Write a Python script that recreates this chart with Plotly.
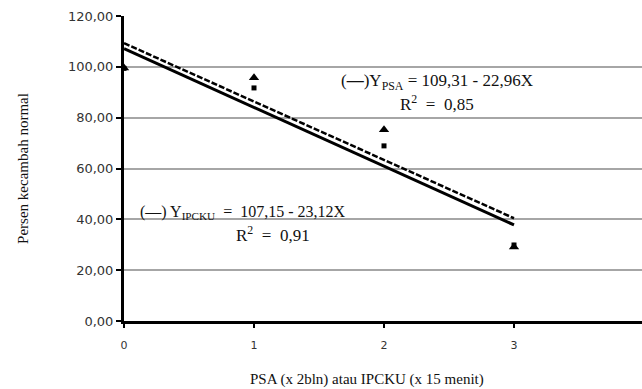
import plotly.graph_objects as go

# Data
x_levels = [0, 1, 2, 3]
psa_obs = [99.5, 95.7, 75.2, 29.1]      # triangles
ipcku_obs = [99.4, 91.7, 68.9, 29.9]    # squares
fit_x = [0, 3]
psa_fit = [109.31, 40.43]     # Y_PSA = 109,31 - 22,96X
ipcku_fit = [107.15, 37.79]   # Y_IPCKU = 107,15 - 23,12X

y_ticks = [0, 20, 40, 60, 80, 100, 120]
y_tick_labels = ["0,00", "20,00", "40,00", "60,00", "80,00", "100,00", "120,00"]
x_ticks = [0, 1, 2, 3, 4]
x_tick_labels = ["0", "1", "2", "3", "4"]

fig = go.Figure()

fig.add_trace(go.Scatter(x=fit_x, y=ipcku_fit, mode="lines",
                         line=dict(color="black", width=3), showlegend=False))
fig.add_trace(go.Scatter(x=fit_x, y=psa_fit, mode="lines",
                         line=dict(color="black", width=2.5, dash="6px,2px"), showlegend=False))
fig.add_trace(go.Scatter(x=x_levels, y=ipcku_obs, mode="markers",
                         marker=dict(symbol="square", size=5, color="black"), showlegend=False))
fig.add_trace(go.Scatter(x=x_levels, y=psa_obs, mode="markers",
                         marker=dict(symbol="triangle-up", size=9, color="black"), showlegend=False))

serif = "Liberation Serif"

W, H = 642, 389
L, R, T, B = 124, 0, 16, 68
pw, ph = W - L - R, H - T - B

annots = [
    dict(text="(<b>—</b>)Y<sub>PSA</sub> = 109,31 - 22,96X", x=437, y=82, size=17),
    dict(text="R<sup>2</sup>  =  0,85", x=437, y=103, size=17),
    dict(text="(—) Y<sub>IPCKU</sub>  =  107,15 - 23,12X", x=243, y=212, size=16),
    dict(text="R<sup>2</sup>  =  0,91", x=273, y=234, size=17),
]
for a in annots:
    fig.add_annotation(
        text=a["text"], showarrow=False,
        xref="paper", yref="paper",
        x=(a["x"] - L) / pw, y=1 - (a["y"] - T) / ph,
        xanchor="center", yanchor="middle",
        font=dict(family=serif, size=a["size"], color="#111"),
    )

# x axis title as annotation (offset from plot centre in the reference)
fig.add_annotation(
    text="PSA (x 2bln) atau IPCKU (x 15 menit)", showarrow=False,
    xref="paper", yref="paper",
    x=(367 - L) / pw, y=1 - (379 - T) / ph,
    xanchor="center", yanchor="middle",
    font=dict(family=serif, size=15, color="#111"),
)

fig.update_layout(
    width=W, height=H,
    margin=dict(l=L, r=R, t=T, b=B),
    paper_bgcolor="white", plot_bgcolor="white",
    xaxis=dict(
        range=[0, pw / 130.0],
        tickvals=x_ticks, ticktext=x_tick_labels,
        showgrid=False, zeroline=False,
        showline=True, linecolor="black", linewidth=3,
        ticks="outside", ticklen=4, tickwidth=2, tickcolor="black",
        tickfont=dict(family="DejaVu Sans", size=11, color="#333"),
        ticklabelstandoff=8,
    ),
    yaxis=dict(
        range=[0, 120],
        tickvals=y_ticks, ticktext=y_tick_labels,
        showgrid=True, gridcolor="#a6a6a6", gridwidth=2,
        zeroline=False,
        showline=True, linecolor="black", linewidth=3,
        ticks="outside", ticklen=5, tickwidth=2, tickcolor="black",
        tickfont=dict(family="DejaVu Sans", size=13, color="#333"),
        title=dict(text="Persen kecambah normal",
                   font=dict(family=serif, size=15, color="#111"), standoff=36),
    ),
)

fig.write_html("out.html", config={"displayModeBar": False},
               post_script="document.body.style.margin='0';")
